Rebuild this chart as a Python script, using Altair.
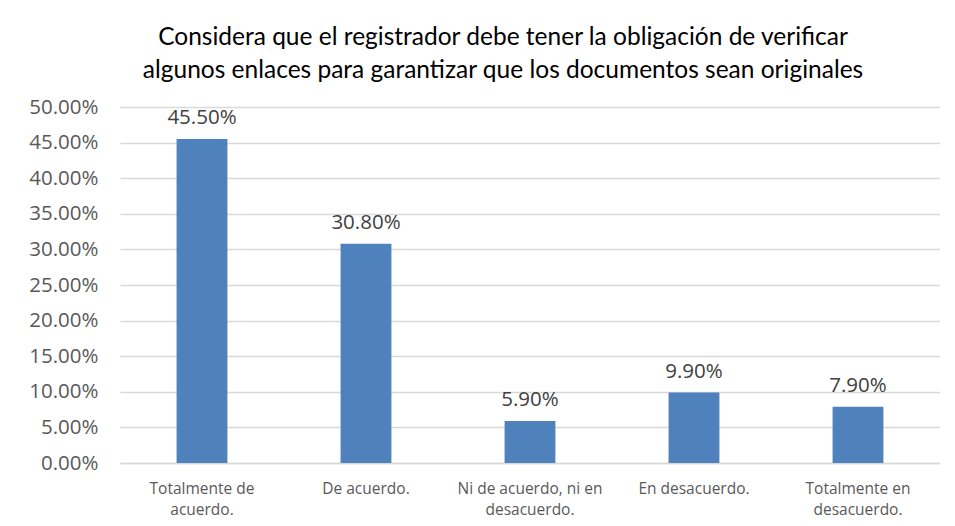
import altair as alt
import pandas as pd

categories = ["Totalmente de acuerdo.", "De acuerdo.", "Ni de acuerdo, ni en desacuerdo.", "En desacuerdo.", "Totalmente en desacuerdo."]
wrapped = ["Totalmente de|acuerdo.", "De acuerdo.", "Ni de acuerdo, ni en|desacuerdo.", "En desacuerdo.", "Totalmente en|desacuerdo."]
values = [0.455, 0.308, 0.059, 0.099, 0.079]
y_ticks = [i * 0.05 for i in range(11)]

df = pd.DataFrame({"cat": wrapped, "val": values})

TFONT = "Lato"
FONT = "Open Sans"
base = alt.Chart(df).encode(
    x=alt.X("cat:N", sort=wrapped, title=None,
            scale=alt.Scale(paddingInner=0.69, paddingOuter=0.345),
            axis=alt.Axis(labelExpr="split(datum.label, '|')", labelAngle=0,
                          labelFontSize=15.5, labelColor="#595959", labelFont=FONT,
                          domainColor="#D9D9D9", domainWidth=1.5, ticks=False, labelPadding=18,
                          labelLineHeight=21)),
    y=alt.Y("val:Q", title=None,
            scale=alt.Scale(domain=[0, 0.5], nice=False),
            axis=alt.Axis(values=y_ticks, format=".2%", labelFontSize=20.5,
                          labelColor="#595959", labelFont=FONT, gridColor="#D9D9D9",
                          gridWidth=1.5, domain=False, ticks=False, labelPadding=22)),
)

bars = base.mark_bar(color="#4F81BD")
labels = base.mark_text(dy=-21, fontSize=20.5, color="#404040", font=FONT).encode(
    text=alt.Text("val:Q", format=".2%"))

chart = (bars + labels).properties(
    width=820, height=356,
    title=alt.TitleParams(
        ["Considera que el registrador debe tener la obligación de verificar",
         "algunos enlaces para garantizar que los documentos sean originales"],
        fontSize=24.5, font=TFONT, fontWeight="normal", color="#000000",
        lineHeight=33, offset=14, anchor="middle", dx=-27),
    padding={"left": 20, "top": 16, "right": 0, "bottom": 0},
).configure_view(stroke=None)

chart.save("out.html", embed_options={"renderer": "svg", "actions": False})
